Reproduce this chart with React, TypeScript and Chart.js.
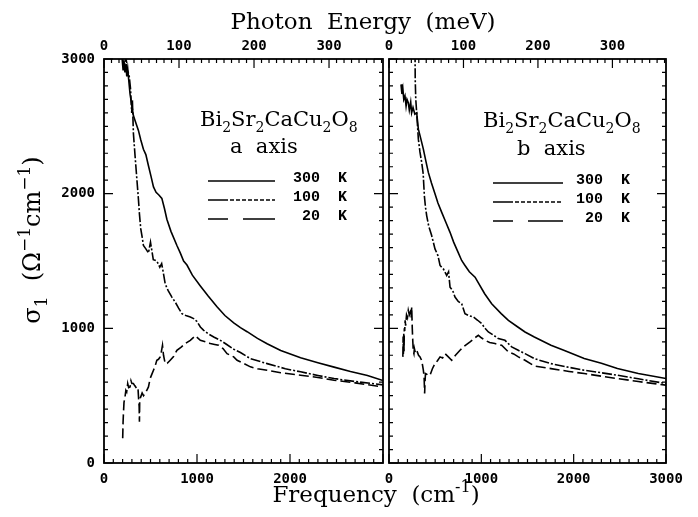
import React, { useEffect, useRef } from "react";
import { Chart, registerables } from "chart.js";

Chart.register(...registerables);

// ---------- axes ----------
const CM_PER_MEV = 8.06554;
const FREQ_MIN = 0;
const FREQ_MAX = 3000;
const SIGMA_MIN = 0;
const SIGMA_MAX = 3000;
const freqTicks = [0, 1000, 2000, 3000];
const energyTicks = [0, 100, 200, 300];
const sigmaTicks = [0, 1000, 2000, 3000];
const FREQ_MINOR = 100;
const ENERGY_MINOR = 10;
const SIGMA_MINOR = 100;

const seriesLabels = ["300  K", "100  K", "20  K"];

// ---------- a axis ----------
const aFreq300 = [195, 205, 215, 225, 235, 245, 255, 265, 280, 298, 316, 340, 370, 395, 424, 450, 478, 505, 532, 560, 590, 622, 650, 676, 720, 784, 820, 856, 892, 950, 1036, 1120, 1215, 1300, 1395, 1467, 1539, 1650, 1754, 1900, 2114, 2300, 2474, 2650, 2833, 3000];
const aSigma300 = [3000, 2920, 2990, 2900, 2960, 2870, 2930, 2850, 2740, 2660, 2580, 2530, 2470, 2400, 2330, 2290, 2207, 2130, 2050, 2010, 1990, 1965, 1890, 1810, 1720, 1615, 1560, 1500, 1470, 1395, 1315, 1240, 1160, 1095, 1040, 1005, 975, 925, 885, 835, 782, 745, 712, 680, 650, 612];

const aFreq100 = [200, 215, 230, 250, 270, 285, 298, 305, 316, 334, 352, 370, 381, 395, 410, 424, 450, 478, 500, 530, 568, 600, 620, 640, 658, 690, 730, 770, 802, 838, 880, 928, 970, 1000, 1036, 1072, 1120, 1180, 1251, 1320, 1395, 1467, 1574, 1754, 1950, 2114, 2300, 2474, 2700, 3000];
const aSigma100 = [3000, 2950, 2990, 2920, 2880, 2780, 2600, 2700, 2450, 2281, 2120, 1960, 1850, 1740, 1680, 1615, 1590, 1560, 1640, 1510, 1500, 1454, 1480, 1405, 1330, 1280, 1232, 1190, 1150, 1109, 1095, 1084, 1070, 1050, 1010, 985, 960, 936, 911, 880, 845, 820, 775, 738, 700, 677, 650, 627, 605, 580];

const aFreq20 = [201, 205, 209, 215, 226, 235, 244, 255, 265, 280, 290, 300, 316, 330, 352, 365, 372, 378, 381, 384, 395, 410, 425, 442, 460, 478, 496, 515, 532, 550, 568, 586, 604, 615, 629, 640, 658, 680, 712, 748, 784, 830, 874, 928, 982, 1036, 1090, 1143, 1190, 1233, 1280, 1323, 1395, 1431, 1500, 1574, 1650, 1754, 1900, 2114, 2300, 2474, 2700, 3000];
const aSigma20 = [183, 300, 368, 450, 491, 540, 528, 590, 560, 565, 610, 590, 590, 575, 553, 560, 480, 420, 306, 470, 491, 520, 500, 516, 540, 565, 627, 660, 689, 720, 763, 770, 788, 820, 874, 800, 738, 740, 763, 790, 837, 860, 887, 911, 945, 911, 900, 887, 880, 874, 850, 812, 788, 763, 740, 714, 700, 689, 670, 652, 635, 615, 595, 565];

// ---------- b axis ----------
const bFreq300 = [130, 140, 150, 160, 173, 185, 195, 209, 220, 235, 245, 260, 280, 300, 318, 340, 372, 400, 426, 460, 498, 530, 571, 620, 661, 700, 751, 787, 823, 870, 932, 1036, 1112, 1215, 1293, 1395, 1473, 1574, 1754, 1900, 2114, 2300, 2474, 2700, 3000];
const bSigma300 = [2812, 2740, 2780, 2700, 2726, 2650, 2700, 2676, 2620, 2680, 2600, 2640, 2590, 2600, 2479, 2420, 2331, 2240, 2158, 2080, 2000, 1930, 1861, 1780, 1713, 1640, 1560, 1504, 1467, 1420, 1380, 1257, 1183, 1109, 1059, 1010, 973, 936, 874, 835, 776, 740, 701, 665, 627];

const bFreq100 = [282, 284, 290, 300, 318, 335, 354, 370, 383, 395, 408, 430, 462, 498, 530, 553, 590, 625, 645, 661, 690, 715, 750, 787, 823, 860, 914, 960, 1004, 1040, 1076, 1130, 1184, 1256, 1329, 1400, 1473, 1574, 1754, 1950, 2114, 2300, 2474, 2700, 3000];
const bSigma100 = [3050, 2850, 2700, 2600, 2405, 2310, 2232, 2150, 1985, 1900, 1837, 1760, 1689, 1590, 1540, 1467, 1440, 1393, 1420, 1306, 1280, 1232, 1200, 1183, 1109, 1095, 1084, 1060, 1035, 1000, 973, 950, 924, 911, 862, 837, 812, 775, 738, 710, 689, 670, 652, 625, 590];

const bFreq20 = [150, 153, 156, 160, 163, 166, 170, 175, 180, 190, 200, 209, 220, 230, 240, 246, 252, 258, 263, 270, 275, 285, 300, 320, 336, 355, 372, 380, 386, 390, 395, 408, 425, 444, 470, 498, 525, 553, 580, 607, 640, 679, 720, 769, 820, 878, 930, 968, 1000, 1040, 1090, 1148, 1220, 1293, 1350, 1401, 1473, 1574, 1754, 1950, 2114, 2300, 2474, 2700, 3000];
const bSigma20 = [788, 940, 800, 960, 830, 1000, 980, 1060, 1020, 1100, 1080, 1133, 1100, 1120, 1080, 1158, 1000, 900, 830, 812, 850, 820, 837, 800, 788, 760, 689, 640, 516, 600, 664, 660, 650, 652, 700, 738, 760, 788, 780, 812, 790, 763, 800, 837, 870, 899, 930, 948, 930, 911, 895, 887, 874, 825, 810, 788, 763, 720, 701, 680, 664, 645, 627, 605, 578];

// ---------- styles ----------
const SERIF = "'DejaVu Serif', serif";
const LEGEND_FONT = "bold 15px 'Liberation Mono', monospace";
const TICK_FONT = { family: "'DejaVu Sans Mono', monospace", size: 14, weight: "bold" as const };
const lineDashes = [[], [10, 2, 2, 2], [10, 4]];
const legendDashes = [
  [],
  [20, 2, 4, 2, 4, 2, 4, 2, 4, 2, 4, 2, 4, 2, 4, 2, 4, 2, 4, 2, 4, 2, 4, 2],
  [20, 15, 40],
];

type Seg = { t: string; s?: "sub" | "sup" };
type TextItem = { segs: Seg[]; x: number; y: number; size: number; align?: "left" | "center"; rotate?: number; small?: number };

function drawRich(ctx: CanvasRenderingContext2D, item: TextItem) {
  const { segs, size } = item;
  const small = item.small ?? 0.68;
  ctx.save();
  ctx.translate(item.x, item.y);
  if (item.rotate) ctx.rotate((item.rotate * Math.PI) / 180);
  const parts = segs.map((sg) => {
    const fs = sg.s ? Math.round(size * small) : size;
    ctx.font = `${fs}px ${SERIF}`;
    return { ...sg, fs, w: ctx.measureText(sg.t).width };
  });
  const total = parts.reduce((a, p) => a + p.w, 0);
  let cx = item.align === "center" ? -total / 2 : 0;
  ctx.fillStyle = "#000";
  ctx.textAlign = "left";
  ctx.textBaseline = "alphabetic";
  for (const p of parts) {
    ctx.font = `${p.fs}px ${SERIF}`;
    const dy = p.s === "sub" ? size * 0.3 : p.s === "sup" ? -size * 0.42 : 0;
    ctx.fillText(p.t, cx, dy);
    cx += p.w;
  }
  ctx.restore();
}

const framePlugin = {
  id: "frame",
  afterDatasetsDraw(chart: any, _args: any, opts: any) {
    const { ctx, chartArea: a, scales } = chart;
    const x = scales.x;
    const y = scales.y;
    const e = scales.e;
    ctx.save();
    ctx.strokeStyle = "#000";
    ctx.setLineDash([]);
    ctx.lineWidth = 1.8;
    ctx.strokeRect(a.left, a.top, a.right - a.left, a.bottom - a.top);
    ctx.lineWidth = 1.2;
    ctx.beginPath();
    for (let v = FREQ_MIN; v <= FREQ_MAX; v += FREQ_MINOR) {
      const px = x.getPixelForValue(v);
      const L = v % 1000 === 0 ? 9 : 4;
      ctx.moveTo(px, a.bottom);
      ctx.lineTo(px, a.bottom - L);
    }
    for (let v = 0; v <= e.max; v += ENERGY_MINOR) {
      const px = e.getPixelForValue(v);
      const L = v % 100 === 0 ? 9 : 4;
      ctx.moveTo(px, a.top);
      ctx.lineTo(px, a.top + L);
    }
    for (let v = SIGMA_MIN; v <= SIGMA_MAX; v += SIGMA_MINOR) {
      const py = y.getPixelForValue(v);
      const L = v % 1000 === 0 ? 9 : 4;
      ctx.moveTo(a.left, py);
      ctx.lineTo(a.left + L, py);
      ctx.moveTo(a.right, py);
      ctx.lineTo(a.right - L, py);
    }
    ctx.stroke();

    // legend
    const lg = opts.legend;
    if (lg) {
      chart.data.datasets.forEach((ds: any, i: number) => {
        const yy = lg.ys[i];
        ctx.beginPath();
        ctx.lineWidth = 1.5;
        ctx.setLineDash(legendDashes[i]);
        ctx.moveTo(lg.x0, yy);
        ctx.lineTo(lg.x1, yy);
        ctx.stroke();
        ctx.setLineDash([]);
        ctx.font = LEGEND_FONT;
        ctx.fillStyle = "#000";
        ctx.textAlign = "right";
        ctx.textBaseline = "alphabetic";
        ctx.fillText(ds.label, lg.textX, yy + 1);
      });
    }
    (opts.texts || []).forEach((t: TextItem) => drawRich(ctx, t));
    ctx.restore();
  },
};

type PanelProps = {
  left: number;
  width: number;
  padLeft: number;
  padRight: number;
  showY: boolean;
  bottomTicks: number[];
  series: { freq: number[]; sigma: number[] }[];
  legend: { x0: number; x1: number; textX: number; ys: number[] };
  texts: TextItem[];
};

function Panel(p: PanelProps) {
  const ref = useRef<HTMLCanvasElement>(null);
  useEffect(() => {
    const tickCommon = {
      font: TICK_FONT,
      color: "#000",
      autoSkip: false,
      maxRotation: 0,
      callback: (v: any) => String(v),
    };
    const chart = new Chart(ref.current as HTMLCanvasElement, {
      type: "line",
      data: {
        datasets: p.series.map((s, i) => ({
          label: seriesLabels[i],
          data: s.freq.map((f, j) => ({ x: f, y: s.sigma[j] })),
          borderColor: "#000",
          borderWidth: 1.6,
          borderDash: lineDashes[i],
          pointRadius: 0,
          tension: 0,
          fill: false,
        })),
      },
      options: {
        animation: false,
        responsive: false,
        maintainAspectRatio: false,
        devicePixelRatio: 1,
        layout: { padding: { left: p.padLeft, right: p.padRight, top: 0, bottom: 0 } },
        plugins: {
          legend: { display: false },
          tooltip: { enabled: false },
          frame: { legend: p.legend, texts: p.texts },
        } as any,
        scales: {
          x: {
            type: "linear",
            position: "bottom",
            min: FREQ_MIN,
            max: FREQ_MAX,
            grid: { display: false, drawTicks: false },
            border: { display: false },
            ticks: { ...tickCommon, padding: 8 },
            afterBuildTicks: (s: any) => {
              s.ticks = p.bottomTicks.map((v) => ({ value: v }));
            },
            afterFit: (s: any) => {
              s.height = 54;
            },
          },
          e: {
            type: "linear",
            axis: "x",
            position: "top",
            min: 0,
            max: FREQ_MAX / CM_PER_MEV,
            grid: { display: false, drawTicks: false },
            border: { display: false },
            ticks: { ...tickCommon, padding: 4, includeBounds: false },
            afterBuildTicks: (s: any) => {
              s.ticks = energyTicks.map((v) => ({ value: v }));
            },
            afterFit: (s: any) => {
              s.height = 59;
            },
          },
          y: {
            type: "linear",
            display: p.showY,
            min: SIGMA_MIN,
            max: SIGMA_MAX,
            grid: { display: false, drawTicks: false },
            border: { display: false },
            ticks: { ...tickCommon, padding: 9 },
            afterBuildTicks: (s: any) => {
              s.ticks = sigmaTicks.map((v) => ({ value: v }));
            },
            afterFit: (s: any) => {
              s.width = p.showY ? 104 : 0;
            },
          },
        } as any,
      },
      plugins: [framePlugin as any],
    });
    return () => chart.destroy();
  }, []);
  return (
    <canvas
      ref={ref}
      width={p.width}
      height={517}
      style={{ position: "absolute", left: p.left, top: 0, width: p.width, height: 517 }}
    />
  );
}

const formula = (x: number, y: number): TextItem => ({
  segs: [
    { t: "Bi" }, { t: "2", s: "sub" }, { t: "Sr" }, { t: "2", s: "sub" },
    { t: "CaCu" }, { t: "2", s: "sub" }, { t: "O" }, { t: "8", s: "sub" },
  ],
  x, y, size: 21,
});

export default function App() {
  const leftTexts: TextItem[] = [
    { segs: [{ t: "Photon  Energy  (meV)" }], x: 363, y: 29, size: 23, align: "center" },
    { segs: [{ t: "Frequency  (cm" }, { t: "-1", s: "sup" }, { t: ")" }], x: 376, y: 502, size: 23, align: "center" },
    {
      segs: [{ t: "σ" }, { t: "1", s: "sub" }, { t: "  (Ω" }, { t: "\u22121", s: "sup" }, { t: "cm" }, { t: "\u22121", s: "sup" }, { t: ")" }],
      x: 40, y: 240, size: 24, align: "center", rotate: -90, small: 0.72,
    },
    formula(200, 126),
    { segs: [{ t: "a  axis" }], x: 230, y: 153, size: 21 },
  ];
  const rightTexts: TextItem[] = [
    formula(137, 127),
    { segs: [{ t: "b  axis" }], x: 171, y: 155, size: 21 },
  ];
  return (
    <div style={{ position: "absolute", left: 0, top: 0, width: 698, height: 517, background: "#fff" }}>
      <Panel
        left={0}
        width={698}
        padLeft={0}
        padRight={315}
        showY={true}
        bottomTicks={freqTicks.filter((v) => v < FREQ_MAX)}
        series={[
          { freq: aFreq300, sigma: aSigma300 },
          { freq: aFreq100, sigma: aSigma100 },
          { freq: aFreq20, sigma: aSigma20 },
        ]}
        legend={{ x0: 208, x1: 275, textX: 347, ys: [181, 200, 219] }}
        texts={leftTexts}
      />
      <Panel
        left={346}
        width={352}
        padLeft={43}
        padRight={32}
        showY={false}
        bottomTicks={freqTicks}
        series={[
          { freq: bFreq300, sigma: bSigma300 },
          { freq: bFreq100, sigma: bSigma100 },
          { freq: bFreq20, sigma: bSigma20 },
        ]}
        legend={{ x0: 147, x1: 217, textX: 284, ys: [183, 202, 221] }}
        texts={rightTexts}
      />
    </div>
  );
}
